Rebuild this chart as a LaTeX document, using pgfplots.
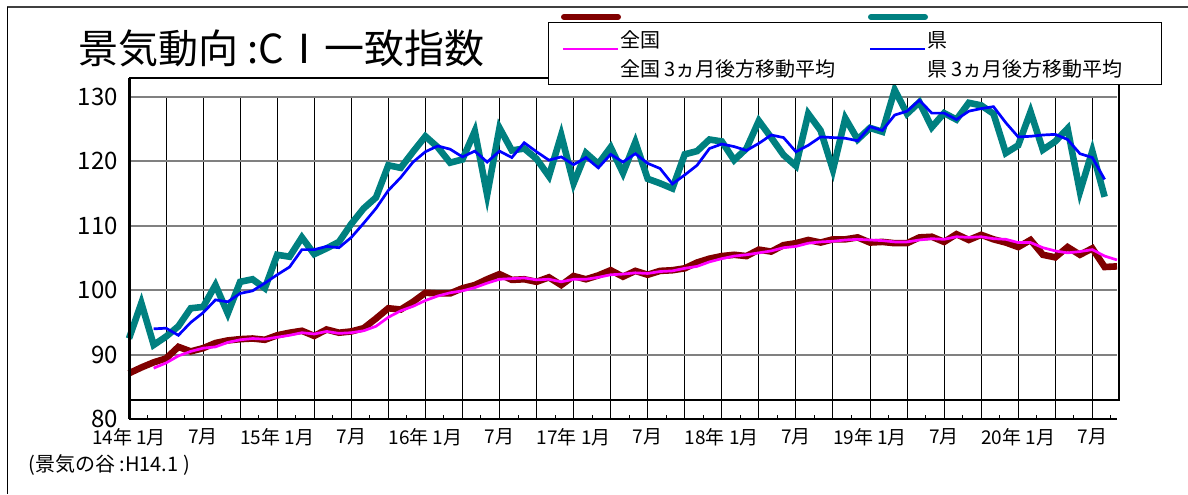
\documentclass[border=0pt]{standalone}
\usepackage{fontspec}
\setmainfont{Noto Sans CJK JP}
\usepackage{pgfplots}
\usepackage{pgfplotstable}
\pgfplotsset{compat=1.18}
\definecolor{zenkoku}{RGB}{128,0,0}
\definecolor{ken}{RGB}{0,128,128}
\definecolor{zenma}{RGB}{255,0,255}
\definecolor{kenma}{RGB}{0,0,255}

% raw index: i=0 is 2014-01
\pgfplotstableread{
i zen ken
0 87.1 92.5
1 88.0 98.0
2 88.8 91.5
3 89.4 92.8
4 91.2 94.4
5 90.5 97.2
6 91.0 97.4
7 91.8 100.8
8 92.2 96.4
9 92.4 101.3
10 92.5 101.7
11 92.3 100.3
12 93.0 105.5
13 93.4 105.2
14 93.7 108.2
15 92.9 105.6
16 93.9 106.5
17 93.4 107.5
18 93.6 110.3
19 94.1 112.7
20 95.6 114.4
21 97.2 119.4
22 97.0 119.0
23 98.2 121.5
24 99.6 123.9
25 99.5 122.2
26 99.5 119.8
27 100.3 120.3
28 100.8 124.7
29 101.7 114.8
30 102.5 125.2
31 101.6 121.7
32 101.7 122.0
33 101.3 120.4
34 102.0 117.7
35 100.8 124.1
36 102.2 116.6
37 101.7 121.3
38 102.3 119.6
39 103.1 122.2
40 102.1 118.2
41 103.0 123.0
42 102.4 117.3
43 103.0 116.6
44 103.1 115.8
45 103.4 121.1
46 104.3 121.6
47 104.9 123.4
48 105.3 123.1
49 105.5 120.2
50 105.3 122.0
51 106.3 126.3
52 106.0 123.7
53 107.0 121.0
54 107.3 119.3
55 107.8 127.4
56 107.4 124.8
57 107.9 118.7
58 107.9 126.7
59 108.2 123.4
60 107.4 125.2
61 107.5 124.6
62 107.3 131.1
63 107.3 127.4
64 108.2 129.2
65 108.3 125.3
66 107.5 127.5
67 108.7 126.5
68 107.8 129.1
69 108.6 128.7
70 107.9 127.4
71 107.4 121.3
72 106.7 122.5
73 107.8 127.7
74 105.5 121.8
75 105.1 123.1
76 106.7 125.1
77 105.5 115.3
78 106.5 121.6
79 103.6 114.5
80 103.7 nan
}\rawdata

% 3-month backward moving averages
\pgfplotstableread{
i zen ken
2 87.9 94.0
3 88.7 94.1
4 89.8 93.0
5 90.5 95.0
6 91.0 96.5
7 91.2 98.5
8 91.9 98.2
9 92.3 99.5
10 92.5 99.9
11 92.4 101.1
12 92.7 102.4
13 93.0 103.6
14 93.4 106.3
15 93.2 106.3
16 93.6 106.8
17 93.3 106.6
18 93.4 108.2
19 93.7 110.4
20 94.4 112.7
21 95.8 115.5
22 96.8 117.5
23 97.5 119.9
24 98.4 121.5
25 99.1 122.4
26 99.6 121.9
27 99.9 120.7
28 100.4 121.6
29 101.1 119.9
30 101.7 121.6
31 101.8 120.6
32 101.9 122.9
33 101.6 121.5
34 101.7 120.2
35 101.3 120.7
36 101.7 119.5
37 101.7 120.6
38 102.0 119.0
39 102.4 121.1
40 102.5 119.9
41 102.7 121.2
42 102.6 119.7
43 102.9 118.9
44 103.0 116.5
45 103.4 117.9
46 103.7 119.4
47 104.4 122.0
48 104.9 122.7
49 105.3 122.3
50 105.5 121.7
51 105.8 122.8
52 106.1 124.1
53 106.6 123.7
54 106.8 121.5
55 107.3 122.5
56 107.5 123.8
57 107.6 123.7
58 107.8 123.6
59 107.9 123.2
60 107.8 125.4
61 107.7 124.8
62 107.5 127.2
63 107.5 127.8
64 107.8 129.5
65 108.0 127.5
66 107.9 127.5
67 108.3 126.5
68 108.2 127.8
69 108.3 128.2
70 108.0 128.5
71 107.9 126.0
72 107.4 123.8
73 107.4 123.9
74 106.6 124.1
75 106.1 124.2
76 105.8 123.4
77 106.0 121.2
78 106.3 120.6
79 105.3 117.2
80 104.7 nan
}\madata

\begin{document}
\begin{tikzpicture}
\path[use as bounding box] (0,0) rectangle (594pt,247pt);

\begin{axis}[
  at={(64.5pt,37.5pt)}, anchor=south west,
  scale only axis, width=494pt, height=161pt,
  xmin=0, xmax=80, ymin=80, ymax=130,
  clip=false,
  axis line style={draw=none},
  xtick pos=bottom, ytick pos=left,
  xtick={0,3,...,78},
  xticklabels={14年 1月,,7月,,15年 1月,,7月,,16年 1月,,7月,,17年 1月,,7月,,18年 1月,,7月,,19年 1月,,7月,,20年 1月,,7月},
  minor xtick={1.5,4.5,...,79.5},
  ytick={80,90,...,130},
  yticklabels={80,90,100,110,120,130},
  major tick length=0pt,
  minor tick length=2pt,
  tick align=inside,
  minor tick style={black, line width=0.5pt},
  xmajorgrids, ymajorgrids,
  x grid style={black, line width=0.5pt},
  y grid style={gray, line width=1pt},
  xticklabel style={font=\fontsize{9.5}{10}\selectfont, yshift=-1pt},
  yticklabel style={font=\fontsize{12}{12}\selectfont, xshift=-2pt},
]
\addplot[zenkoku, line width=3.3pt] table[x=i, y=zen] {\rawdata};
\addplot[ken, line width=3.3pt] table[x=i, y=ken] {\rawdata};
\addplot[zenma, line width=1.35pt] table[x=i, y=zen] {\madata};
\addplot[kenma, line width=1.35pt] table[x=i, y=ken] {\madata};
% frames
\draw[black, line width=0.75pt] (axis cs:0,132.95) -- (axis cs:80.16,132.95);
\draw[black, line width=1.3pt] (axis cs:80.16,132.95) -- (axis cs:80.16,82.95) -- (axis cs:0,82.95);
\draw[black, line width=1.5pt] (axis cs:0,80) -- (axis cs:0,132.95);
\draw[black, line width=1pt] (axis cs:0,80) -- (axis cs:80,80);
\end{axis}

\begin{scope}[x=0.5pt, y=-0.5pt, shift={(0pt,247pt)}]
  % outer frame
  \draw[black!75, line width=1.2pt] (7,7) -- (1188,7);
  \draw[black, line width=0.5pt] (7,7) -- (7,494);
  % title
  \node[anchor=west, inner sep=0pt, font=\fontsize{20}{20}\selectfont] at (78,48) {景気動向 :CⅠ一致指数};
  % legend
  \draw[black, line width=0.5pt, fill=white] (548,23) rectangle (1161,84);
  \draw[zenkoku, line width=3pt, line cap=round] (564,17) -- (618,17);
  \draw[ken, line width=3pt, line cap=round] (871,17) -- (925,17);
  \draw[zenma, line width=1.35pt] (563,49) -- (618,49);
  \draw[kenma, line width=1.35pt] (870,49) -- (925,49);
  \node[anchor=west, inner sep=0pt, font=\fontsize{10}{10}\selectfont] at (620,40) {全国};
  \node[anchor=west, inner sep=0pt, font=\fontsize{10}{10}\selectfont] at (927,40) {県};
  \node[anchor=west, inner sep=0pt, font=\fontsize{10}{10}\selectfont] at (620,69) {全国 3ヵ月後方移動平均};
  \node[anchor=west, inner sep=0pt, font=\fontsize{10}{10}\selectfont] at (927,69) {県 3ヵ月後方移動平均};
  % note
  \node[anchor=west, inner sep=0pt, font=\fontsize{10}{10}\selectfont] at (28,465) {(景気の谷 :H14.1 )};
\end{scope}
\end{tikzpicture}
\end{document}
